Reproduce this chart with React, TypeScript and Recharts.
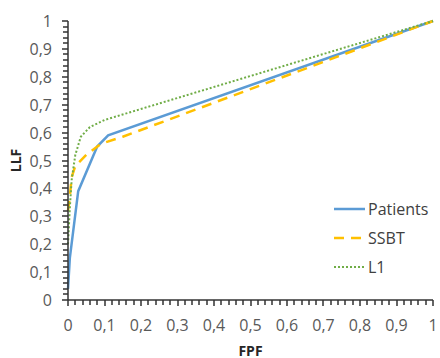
import React from "react";
import { LineChart, Line, XAxis, YAxis, Legend, Label } from "recharts";

// FPF / LLF points
const patientsFpf = [0, 0.005, 0.028, 0.08, 0.11, 1];
const patientsLlf = [0.04, 0.15, 0.39, 0.55, 0.59, 1];

const ssbtFpf = [0, 0.005, 0.01, 0.02, 0.05, 0.09, 0.15, 1];
const ssbtLlf = [0.32, 0.37, 0.44, 0.48, 0.52, 0.56, 0.585, 1];

const l1Fpf = [0, 0.005, 0.01, 0.02, 0.035, 0.06, 0.1, 0.15, 1];
const l1Llf = [0.2, 0.33, 0.43, 0.52, 0.585, 0.62, 0.645, 0.665, 1];

const majorTicks = [0, 0.1, 0.2, 0.3, 0.4, 0.5, 0.6, 0.7, 0.8, 0.9, 1];
const tickLabels = ["0", "0,1", "0,2", "0,3", "0,4", "0,5", "0,6", "0,7", "0,8", "0,9", "1"];
const minorStep = 0.02;

const toPoints = (xs: number[], ys: number[]) => xs.map((x, i) => ({ x, y: ys[i] }));

const series = [
  { name: "Patients", data: toPoints(patientsFpf, patientsLlf), color: "#5B9BD5", width: 2.5, dash: undefined },
  { name: "SSBT", data: toPoints(ssbtFpf, ssbtLlf), color: "#FFC000", width: 2.5, dash: "10 7" },
  { name: "L1", data: toPoints(l1Fpf, l1Llf), color: "#70AD47", width: 2, dash: "2 2" },
];

const allTicks: number[] = [];
for (let i = 0; i <= Math.round(1 / minorStep); i++) allTicks.push(+(i * minorStep).toFixed(2));

const AXIS = "#333333";
const TEXT = "#595959";
const FONT = "'Open Sans', sans-serif";

function labelFor(v: number) {
  const idx = majorTicks.findIndex((m) => Math.abs(m - v) < 1e-6);
  return idx >= 0 ? tickLabels[idx] : null;
}

// tick mark and label drawn together; x, y sit on the axis line (tickSize 0)
function XTick(props: any) {
  const { x, y, payload } = props;
  const label = labelFor(payload.value);
  return (
    <g>
      <rect x={Math.round(x) - 0.75} y={y} width={1.5} height={label ? 6 : 5} fill={AXIS} />
      {label && (
        <text x={x} y={y + 25} textAnchor="middle" dominantBaseline="central" fill={TEXT} fontSize={16} fontFamily={FONT}>
          {label}
        </text>
      )}
    </g>
  );
}

function YTick(props: any) {
  const { x, y, payload } = props;
  const label = labelFor(payload.value);
  const len = label ? 6 : 5;
  return (
    <g>
      <rect x={x - len} y={Math.round(y) - 0.75} width={len} height={1.5} fill={AXIS} />
      {label && (
        <text x={x - 16} y={y} textAnchor="end" dominantBaseline="central" fill={TEXT} fontSize={16} fontFamily={FONT}>
          {label}
        </text>
      )}
    </g>
  );
}

function LegendBox() {
  return (
    <div style={{ fontFamily: FONT, fontSize: 16, color: "#404040" }}>
      {series.map((s) => (
        <div key={s.name} style={{ display: "flex", alignItems: "center", height: 29 }}>
          <svg width={32} height={10}>
            <line x1={0} x2={31} y1={5} y2={5} stroke={s.color} strokeWidth={s.width} strokeDasharray={s.dash} />
          </svg>
          <span style={{ marginLeft: 2 }}>{s.name}</span>
        </div>
      ))}
    </div>
  );
}

export default function App() {
  return (
    <div style={{ width: 440, height: 358, background: "#fff" }}>
      <style>{"body{margin:0}"}</style>
      <LineChart width={440} height={358} margin={{ top: 21, right: 7, left: 0, bottom: 0 }}>
        <XAxis
          type="number"
          dataKey="x"
          domain={[0, 1]}
          ticks={allTicks}
          interval={0}
          height={58}
          tickSize={0}
          tickMargin={0}
          tickLine={false}
          tick={<XTick />}
          axisLine={{ stroke: AXIS, strokeWidth: 1.5 }}
          allowDuplicatedCategory={false}
        >
          <Label
            content={(p: any) => (
              <text
                x={p.viewBox.x + p.viewBox.width / 2}
                y={p.viewBox.y + 50}
                textAnchor="middle"
                dominantBaseline="central"
                fontWeight="bold"
                fontSize={14}
                fontFamily={FONT}
                fill="#262626"
              >
                FPF
              </text>
            )}
          />
        </XAxis>
        <YAxis
          type="number"
          domain={[0, 1]}
          ticks={allTicks}
          interval={0}
          width={68}
          tickSize={0}
          tickMargin={0}
          tickLine={false}
          tick={<YTick />}
          axisLine={{ stroke: AXIS, strokeWidth: 1.5 }}
        >
          <Label
            content={(p: any) => {
              const cy = p.viewBox.y + p.viewBox.height / 2;
              return (
                <text
                  x={15}
                  y={cy}
                  transform={`rotate(-90, 15, ${cy})`}
                  textAnchor="middle"
                  dominantBaseline="central"
                  fontWeight="bold"
                  fontSize={14}
                  fontFamily={FONT}
                  fill="#262626"
                >
                  LLF
                </text>
              );
            }}
          />
        </YAxis>
        {series.map((s) => (
          <Line
            key={s.name}
            data={s.data}
            dataKey="y"
            name={s.name}
            type="linear"
            stroke={s.color}
            strokeWidth={s.width}
            strokeDasharray={s.dash}
            dot={false}
            activeDot={false}
            isAnimationActive={false}
          />
        ))}
        <Legend
          layout="vertical"
          align="center"
          verticalAlign="middle"
          content={() => <LegendBox />}
          wrapperStyle={{ position: "absolute", left: 334, top: 194, width: 106 }}
        />
      </LineChart>
    </div>
  );
}
